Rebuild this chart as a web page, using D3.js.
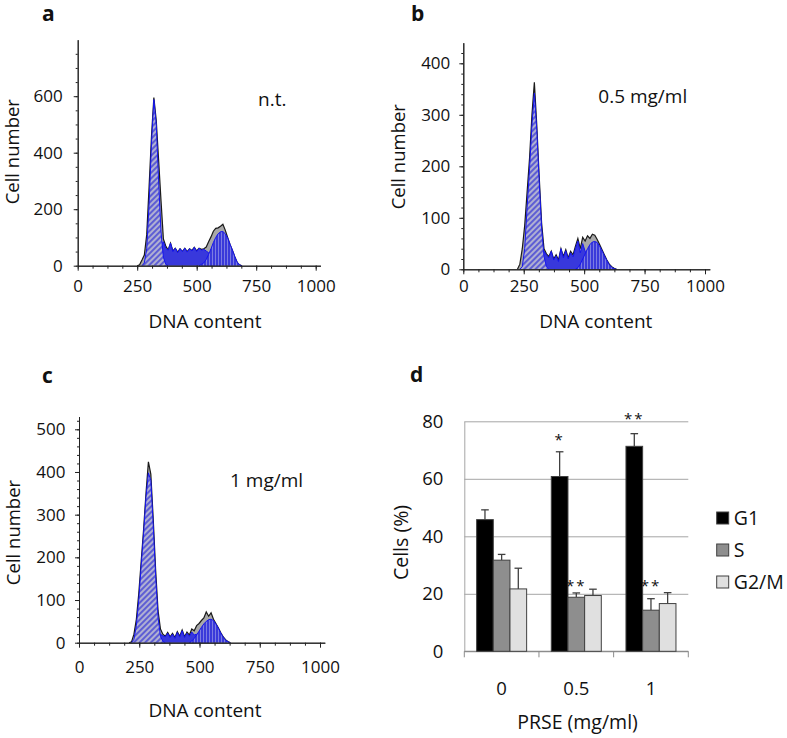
<!DOCTYPE html>
<html>
<head>
<meta charset="utf-8">
<script src="https://cdn.jsdelivr.net/npm/d3@7"></script>
<style>
  body { margin: 0; background: #fff; }
  svg text { font-family: "Open Sans", sans-serif; fill: #111; }
</style>
</head>
<body>
<svg id="fig" width="787" height="738"></svg>
<script>
// ---- panel a: untreated (n.t.) ----
const binsA = [240, 250, 260, 270, 280, 290, 300, 310, 320, 330, 340, 350, 360, 370, 380, 390, 400, 410, 420, 430, 440, 450, 460, 470, 480, 490, 500, 510, 520, 530, 540, 550, 560, 570, 580, 590, 600, 610, 620, 630, 640, 650, 660, 670, 680, 690, 700];
const totalA = [0, 0, 3, 20, 38, 110, 280, 457, 595, 515, 374, 231, 95, 70, 55, 80, 52, 62, 48, 60, 50, 62, 50, 60, 54, 65, 52, 62, 58, 60, 66, 85, 102, 122, 132, 134, 140, 147, 126, 100, 75, 55, 32, 12, 3, 0, 0];
const g1A = [0, 0, 0, 0, 10, 60, 220, 430, 588, 500, 300, 120, 30, 5, 0, 0, 0, 0, 0, 0, 0, 0, 0, 0, 0, 0, 0, 0, 0, 0, 0, 0, 0, 0, 0, 0, 0, 0, 0, 0, 0, 0, 0, 0, 0, 0, 0];
const sA = [0, 0, 0, 0, 0, 0, 0, 0, 0, 0, 20, 70, 85, 62, 55, 80, 50, 62, 46, 60, 50, 62, 48, 60, 52, 65, 50, 62, 55, 58, 52, 46, 35, 22, 10, 3, 0, 0, 0, 0, 0, 0, 0, 0, 0, 0, 0];
const g2A = [0, 0, 0, 0, 0, 0, 0, 0, 0, 0, 0, 0, 0, 0, 0, 0, 0, 0, 0, 0, 0, 0, 0, 0, 0, 0, 0, 0, 5, 10, 22, 40, 60, 82, 100, 113, 120, 121, 113, 98, 76, 55, 32, 12, 3, 0, 0];

// ---- panel b: 0.5 mg/ml ----
const binsB = [204, 214, 224, 234, 244, 254, 264, 274, 284, 294, 304, 314, 324, 334, 344, 354, 364, 374, 384, 394, 404, 414, 424, 434, 444, 454, 464, 474, 484, 494, 504, 514, 524, 534, 544, 554, 564, 574, 584, 594, 604, 614, 624, 634, 644, 654, 664];
const totalB = [0, 0, 0, 10, 40, 85, 150, 215, 300, 363, 280, 180, 90, 40, 30, 25, 35, 20, 28, 18, 40, 25, 38, 22, 35, 28, 45, 60, 40, 62, 55, 65, 60, 68, 66, 58, 48, 38, 28, 18, 10, 5, 2, 0, 0, 0, 0];
const g1B = [0, 0, 0, 0, 5, 40, 120, 195, 280, 342, 270, 170, 80, 25, 5, 0, 0, 0, 0, 0, 0, 0, 0, 0, 0, 0, 0, 0, 0, 0, 0, 0, 0, 0, 0, 0, 0, 0, 0, 0, 0, 0, 0, 0, 0, 0, 0];
const sB = [0, 0, 0, 0, 0, 0, 0, 0, 0, 0, 0, 5, 20, 35, 28, 22, 35, 18, 26, 15, 40, 22, 36, 20, 32, 24, 40, 55, 32, 50, 35, 30, 22, 15, 8, 3, 0, 0, 0, 0, 0, 0, 0, 0, 0, 0, 0];
const g2B = [0, 0, 0, 0, 0, 0, 0, 0, 0, 0, 0, 0, 0, 0, 0, 0, 0, 0, 0, 0, 0, 0, 0, 0, 0, 0, 0, 3, 10, 20, 30, 40, 48, 53, 54, 52, 45, 36, 26, 17, 9, 4, 1, 0, 0, 0, 0];

// ---- panel c: 1 mg/ml ----
const binsC = [208, 218, 228, 238, 248, 258, 268, 278, 288, 298, 308, 318, 328, 338, 348, 358, 368, 378, 388, 398, 408, 418, 428, 438, 448, 458, 468, 478, 488, 498, 508, 518, 528, 538, 548, 558, 568, 578, 588, 598, 608, 618, 628, 638, 648, 658, 668];
const totalC = [0, 2, 20, 55, 115, 190, 265, 350, 424, 395, 290, 170, 75, 32, 20, 15, 24, 14, 22, 12, 26, 15, 30, 14, 25, 18, 32, 28, 40, 45, 52, 58, 72, 62, 70, 55, 45, 35, 24, 14, 7, 3, 0, 0, 0, 0, 0];
const g1C = [0, 0, 8, 40, 100, 180, 255, 340, 398, 380, 275, 155, 60, 15, 3, 0, 0, 0, 0, 0, 0, 0, 0, 0, 0, 0, 0, 0, 0, 0, 0, 0, 0, 0, 0, 0, 0, 0, 0, 0, 0, 0, 0, 0, 0, 0, 0];
const sC = [0, 0, 0, 0, 0, 0, 0, 0, 0, 0, 0, 3, 12, 20, 16, 14, 22, 12, 20, 10, 24, 13, 28, 12, 22, 15, 25, 18, 20, 14, 10, 6, 3, 0, 0, 0, 0, 0, 0, 0, 0, 0, 0, 0, 0, 0, 0];
const g2C = [0, 0, 0, 0, 0, 0, 0, 0, 0, 0, 0, 0, 0, 0, 0, 0, 0, 0, 0, 0, 0, 0, 0, 0, 0, 0, 4, 10, 18, 27, 36, 44, 50, 54, 55, 52, 44, 34, 23, 13, 6, 2, 0, 0, 0, 0, 0];

// ---- panel d: cell cycle distribution ----
const doses = ["0", "0.5", "1"];
const phases = ["G1", "S", "G2/M"];
const g1Pct = [45.8, 60.8, 71.3];
const sPct = [31.7, 18.8, 14.3];
const g2mPct = [21.7, 19.4, 16.6];
const g1Err = [3.4, 8.6, 4.4];
const sErr = [2.0, 1.5, 4.0];
const g2mErr = [7.2, 2.2, 3.8];
const starDose = ["0.5", "1", "0.5", "1"];
const starPhase = ["G1", "G1", "S", "S"];
const starText = ["*", "**", "**", "**"];
const starLevel = [74.4, 82, 23.9, 23.9];

const svg = d3.select("#fig");
const defs = svg.append("defs");

const diag = defs.append("pattern")
    .attr("id", "hatchDiag")
    .attr("width", 4)
    .attr("height", 4)
    .attr("patternUnits", "userSpaceOnUse")
    .attr("patternTransform", "rotate(45)");
diag.append("rect").attr("width", 4).attr("height", 4).attr("fill", "#b0b0d2");
diag.append("line").attr("x1", 1).attr("y1", 0).attr("x2", 1).attr("y2", 4)
    .attr("stroke", "#3a3ad6").attr("stroke-width", 1.4);

const vert = defs.append("pattern")
    .attr("id", "hatchVert")
    .attr("width", 3)
    .attr("height", 3)
    .attr("patternUnits", "userSpaceOnUse");
vert.append("rect").attr("width", 3).attr("height", 3).attr("fill", "#7c7ce2");
vert.append("line").attr("x1", 1).attr("y1", 0).attr("x2", 1).attr("y2", 3)
    .attr("stroke", "#2424d8").attr("stroke-width", 1.5);

function cleanAxis(sel) {
    sel.attr("font-family", null).attr("font-size", null);
    sel.selectAll("path, line").attr("stroke", "#222");
}

function drawHistogram(p) {
    const x = d3.scaleLinear()
        .domain([0, 1020])
        .range([p.x0, p.x0 + (p.x1000 - p.x0) * 1.02]);
    const y = d3.scaleLinear()
        .domain([0, p.yMax])
        .range([p.y0, p.yTop]);

    const g = svg.append("g");

    // keep just the non-zero stretch of a series, plus one zero either side
    const toPts = (vals) => {
        let first = vals.findIndex((v) => v > 0);
        let last = vals.length - 1;
        while (last > 0 && vals[last] <= 0) last--;
        first = Math.max(0, first - 1);
        last = Math.min(vals.length - 1, last + 1);
        const pts = [];
        for (let i = first; i <= last; i++) pts.push([p.bins[i], vals[i]]);
        return pts;
    };

    const area = d3.area().x((d) => x(d[0])).y0(y(0)).y1((d) => y(d[1]));
    const line = d3.line().x((d) => x(d[0])).y((d) => y(d[1]));

    const total = toPts(p.total);
    g.append("path").datum(total).attr("d", area).attr("fill", "#a8a8a8");
    g.append("path").datum(total).attr("d", line)
        .attr("fill", "none").attr("stroke", "#1a1a1a").attr("stroke-width", 1.2);

    [[p.s, "#3838dc"], [p.g1, "url(#hatchDiag)"], [p.g2, "url(#hatchVert)"]].forEach(([vals, fill]) => {
        const pts = toPts(vals);
        g.append("path").datum(pts).attr("d", area).attr("fill", fill);
        g.append("path").datum(pts).attr("d", line)
            .attr("fill", "none").attr("stroke", "#1414f0").attr("stroke-width", 1);
    });

    // x axis
    g.append("g")
        .attr("transform", "translate(0," + p.y0 + ")")
        .call(d3.axisBottom(x).tickValues(d3.range(0, 1001, 62.5)).tickSize(3).tickSizeOuter(0).tickFormat(""))
        .call(cleanAxis);
    g.append("g")
        .attr("transform", "translate(0," + p.y0 + ")")
        .call(d3.axisBottom(x).tickValues([0, 250, 500, 750, 1000]).tickFormat(d3.format("d"))
            .tickSize(5).tickSizeOuter(0).tickPadding(p.xPad))
        .call(cleanAxis)
        .selectAll("text").style("font-size", "17px");

    // y axis
    g.append("g")
        .attr("transform", "translate(" + p.x0 + ",0)")
        .call(d3.axisLeft(y).tickValues(d3.range(0, p.yMax, p.yMinor)).tickSize(2).tickSizeOuter(0).tickFormat(""))
        .call(cleanAxis);
    g.append("g")
        .attr("transform", "translate(" + p.x0 + ",0)")
        .call(d3.axisLeft(y).tickValues(d3.range(0, p.yMax, p.yStep)).tickSize(4).tickSizeOuter(0).tickPadding(p.yPad))
        .call(cleanAxis)
        .selectAll("text").style("font-size", "17px");

    // titles
    g.append("text")
        .attr("x", p.titleX)
        .attr("y", p.titleY)
        .attr("text-anchor", "middle")
        .style("font-size", "19px")
        .text("DNA content");
    g.append("text")
        .attr("transform", "translate(" + p.yTitleX + "," + p.yTitleY + ") rotate(-90)")
        .attr("text-anchor", "middle")
        .style("font-size", "18.5px")
        .text("Cell number");
    g.append("text")
        .attr("x", p.noteX)
        .attr("y", p.noteY)
        .style("font-size", "19px")
        .text(p.note);
    g.append("text")
        .attr("x", p.letterX)
        .attr("y", p.letterY)
        .style("font-size", "21px")
        .style("font-weight", "bold")
        .text(p.letter);
}

drawHistogram({
    bins: binsA, total: totalA, g1: g1A, s: sA, g2: g2A,
    x0: 77.7, x1000: 315.7, y0: 265.7, yMax: 800, yTop: 39.7, yStep: 200, yMinor: 50,
    xPad: 9, yPad: 11,
    titleX: 205, titleY: 328.3, yTitleX: 19, yTitleY: 151.7,
    note: "n.t.", noteX: 258, noteY: 106, letter: "a", letterX: 42, letterY: 21
});

drawHistogram({
    bins: binsB, total: totalB, g1: g1B, s: sB, g2: g2B,
    x0: 463.3, x1000: 705, y0: 269.3, yMax: 440, yTop: 42.7, yStep: 100, yMinor: 20,
    xPad: 5.5, yPad: 9,
    titleX: 595.8, titleY: 328.3, yTitleX: 405, yTitleY: 156.7,
    note: "0.5 mg/ml", noteX: 598.3, noteY: 103.3, letter: "b", letterX: 411, letterY: 21
});

drawHistogram({
    bins: binsC, total: totalC, g1: g1C, s: sC, g2: g2C,
    x0: 79, x1000: 320, y0: 642.7, yMax: 530, yTop: 416.5, yStep: 100, yMinor: 20,
    xPad: 13, yPad: 9.5,
    titleX: 205, titleY: 717.3, yTitleX: 20, yTitleY: 532.5,
    note: "1 mg/ml", noteX: 230, noteY: 486.7, letter: "c", letterX: 42, letterY: 382.5
});

// ---- bar chart ----
const pct = [g1Pct, sPct, g2mPct];
const err = [g1Err, sErr, g2mErr];
const fills = ["#000000", "#8e8e8e", "#e0e0e0"];

const xBand = d3.scaleBand().domain(doses).range([464.3, 688.3]);
const xPhase = d3.scaleBand().domain(phases).range([0, xBand.bandwidth()]).paddingOuter(0.74);
const yPct = d3.scaleLinear().domain([0, 80]).range([651.3, 421.3]);

const gd = svg.append("g");

gd.append("g")
    .attr("transform", "translate(464.3,0)")
    .call(d3.axisLeft(yPct).tickValues([0, 20, 40, 60, 80]).tickSize(-(688.3 - 464.3)).tickSizeOuter(0).tickPadding(21))
    .call((sel) => {
        sel.attr("font-family", null).attr("font-size", null);
        sel.selectAll("line").attr("stroke", "#a6a6a6");
        sel.select(".domain").attr("stroke", "#a6a6a6");
        sel.selectAll("text").style("font-size", "18.5px");
    });

// x axis with ticks at the band edges
const xAxisG = gd.append("g").attr("transform", "translate(0," + yPct(0) + ")");
xAxisG.append("line")
    .attr("x1", xBand.range()[0]).attr("x2", xBand.range()[1])
    .attr("stroke", "#8c8c8c").attr("stroke-width", 1.2);
xAxisG.selectAll("line.edge")
    .data([...doses.map((d) => xBand(d)), xBand.range()[1]])
    .enter()
    .append("line")
    .attr("class", "edge")
    .attr("x1", (d) => d).attr("x2", (d) => d)
    .attr("y1", 0).attr("y2", 6)
    .attr("stroke", "#8c8c8c");
xAxisG.call(d3.axisBottom(xBand).tickSize(0).tickPadding(31))
    .call((sel) => {
        sel.attr("font-family", null).attr("font-size", null);
        sel.select(".domain").remove();
        sel.selectAll("text").style("font-size", "18.5px");
    });

const rows = [];
phases.forEach((ph, j) => {
    doses.forEach((d, i) => {
        rows.push({ dose: d, phase: ph, value: pct[j][i], err: err[j][i], fill: fills[j] });
    });
});

const barX = (d) => xBand(d.dose) + xPhase(d.phase);

gd.selectAll("line.err")
    .data(rows)
    .enter()
    .append("line")
    .attr("class", "err")
    .attr("x1", (d) => barX(d) + xPhase.bandwidth() / 2)
    .attr("x2", (d) => barX(d) + xPhase.bandwidth() / 2)
    .attr("y1", (d) => yPct(d.value))
    .attr("y2", (d) => yPct(d.value + d.err))
    .attr("stroke", "#404040")
    .attr("stroke-width", 1.3);

gd.selectAll("line.cap")
    .data(rows)
    .enter()
    .append("line")
    .attr("class", "cap")
    .attr("x1", (d) => barX(d) + xPhase.bandwidth() / 2 - 3.8)
    .attr("x2", (d) => barX(d) + xPhase.bandwidth() / 2 + 3.8)
    .attr("y1", (d) => yPct(d.value + d.err))
    .attr("y2", (d) => yPct(d.value + d.err))
    .attr("stroke", "#404040")
    .attr("stroke-width", 1.3);

gd.selectAll("rect.bar")
    .data(rows)
    .enter()
    .append("rect")
    .attr("class", "bar")
    .attr("x", (d) => barX(d))
    .attr("y", (d) => yPct(d.value))
    .attr("width", xPhase.bandwidth())
    .attr("height", (d) => yPct(0) - yPct(d.value))
    .attr("fill", (d) => d.fill)
    .attr("stroke", "#404040")
    .attr("stroke-width", 1);

gd.selectAll("text.star")
    .data(starText)
    .enter()
    .append("text")
    .attr("class", "star")
    .attr("x", (d, i) => xBand(starDose[i]) + xPhase(starPhase[i]) + xPhase.bandwidth() / 2)
    .attr("y", (d, i) => yPct(starLevel[i]) + 8)
    .attr("text-anchor", "middle")
    .style("font-size", "15px")
    .style("letter-spacing", "2px")
    .text((d) => d);

// legend
const legend = gd.append("g").attr("transform", "translate(716.7,512)");
phases.forEach((ph, j) => {
    const row = legend.append("g").attr("transform", "translate(0," + j * 32 + ")");
    row.append("rect")
        .attr("width", 12).attr("height", 12)
        .attr("fill", fills[j]).attr("stroke", "#404040");
    row.append("text")
        .attr("x", 17).attr("y", 12.5)
        .style("font-size", "19.5px")
        .text(ph);
});

gd.append("text")
    .attr("transform", "translate(408,542.5) rotate(-90)")
    .attr("text-anchor", "middle")
    .style("font-size", "19.5px")
    .text("Cells (%)");
gd.append("text")
    .attr("x", 577.5)
    .attr("y", 729)
    .attr("text-anchor", "middle")
    .style("font-size", "19.5px")
    .text("PRSE (mg/ml)");
gd.append("text")
    .attr("x", 410)
    .attr("y", 382)
    .style("font-size", "21px")
    .style("font-weight", "bold")
    .text("d");
</script>
</body>
</html>
